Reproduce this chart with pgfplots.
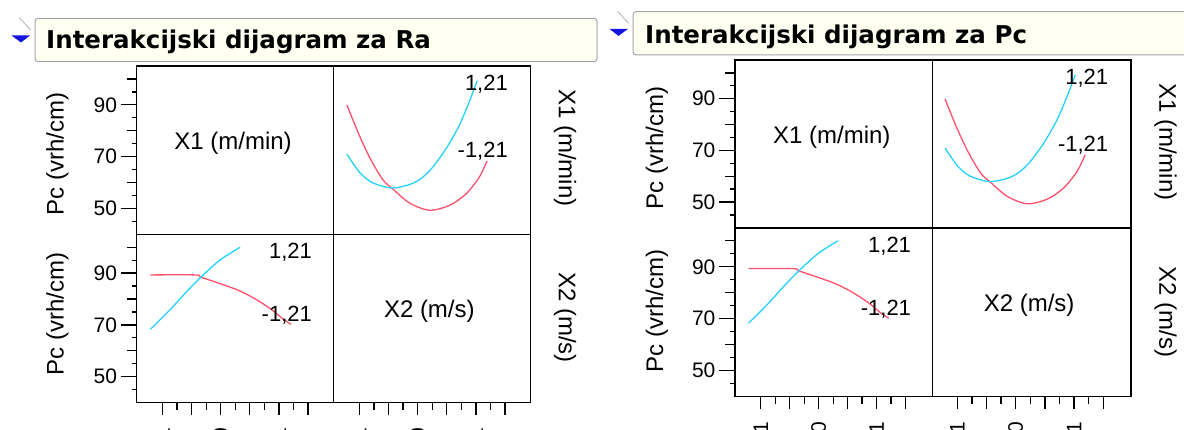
\documentclass[border=0pt]{standalone}
\usepackage{fontspec}
\setmainfont{Liberation Sans}
\newfontfamily\titlefont{DejaVu Sans}
\usepackage{pgfplots}
\pgfplotsset{compat=1.18}
\usepackage{pgfplotstable}
\definecolor{jred}{RGB}{255,80,110}
\definecolor{jcyan}{RGB}{35,210,250}
\definecolor{boxfill}{RGB}{255,255,242}
\definecolor{boxline}{RGB}{165,165,165}
\definecolor{tri}{RGB}{20,20,225}

% upper-right cell: x = X2, lines for X1 = -1.21 (red) and 1.21 (cyan)
\pgfplotstableread{
x y
-1.21 89.9
-1.02 79.3
-0.82 69.6
-0.60 61.2
-0.43 57.6
-0.14 52.1
0.20 49.3
0.54 51.1
0.82 55.4
1.05 61.8
1.19 68.3
}\urred
\pgfplotstableread{
x y
-1.21 70.9
-0.99 63.8
-0.77 59.9
-0.43 57.9
-0.06 59.9
0.20 64.4
0.48 72.8
0.71 81.9
0.88 90.9
1.02 99.3
}\urcyan
% lower-left cell: x = X1, lines for X2 = -1.21 (red) and 1.21 (cyan)
\pgfplotstableread{
x y
-1.21 89.3
-0.44 89.3
-0.354 88.5
-0.124 86.8
0.277 83.6
0.564 80.4
0.85 76.3
1.08 72.1
1.21 70.2
}\llred
\pgfplotstableread{
x y
-1.21 68.3
-0.87 75.9
-0.58 83.0
-0.33 88.7
-0.01 95.1
0.333 100.0
}\llcyan

\pgfplotsset{
  cell/.style={scale only axis, anchor=south west, ymin=40, ymax=105,
    axis line style={line width=1.4pt, black},
    xtick=\empty, ytick=\empty, clip=true,
    tick align=outside,
    every tick/.style={black, line width=1.3pt},
    tick label style={font=\fontsize{21}{21}\selectfont},
  },
  yax/.style={ytick={50,70,90}, yticklabels={50,70,90}, ytick pos=left,
    minor ytick={45,55,65,75,85,95},
    major tick length=16pt, minor tick length=5pt,
    extra y ticks={60,80,100}, extra y tick labels={},
    extra y tick style={ytick pos=left, major tick length=10pt},
    yticklabel style={anchor=east, inner sep=0pt},
    yticklabel shift=3.4pt},
  xax/.style={xtick={-1,-0.5,0,0.5,1,1.5}, xticklabels={-1,,0,,1,},
    minor xtick={-0.75,-0.25,0.25,0.75,1.25}, xtick pos=bottom,
    major tick length=12.7pt, minor tick length=7.3pt,
    xticklabel style={rotate=90, anchor=east, inner sep=0pt},
    xticklabel shift=12.5pt},
  overlay/.style={axis line style={draw=none}},
  jr/.style={color=jred, line width=1.3pt, smooth, no markers},
  jc/.style={color=jcyan, line width=1.3pt, smooth, no markers},
}
\newcommand{\lblfont}{\fontsize{24}{24}\selectfont}
\newcommand{\numfont}{\fontsize{22}{22}\selectfont}

\begin{document}
\begin{tikzpicture}
\path[use as bounding box] (0pt,0pt) rectangle (1184pt,429pt);

\begin{scope}[x=1pt,y=1pt]
% ================= LEFT PANEL decorations =================
\draw[boxline, fill=boxfill, rounded corners=3pt, line width=1pt] (35,410.7) rectangle (597,367.3);
\node[anchor=base west, inner sep=0pt, font=\titlefont\bfseries\fontsize{24.5}{28}\selectfont] at (46,380.7) {Interakcijski dijagram za Ra};
\draw[gray!60, line width=0.8pt] (19.3,411.3) -- (30.7,399);
\fill[tri] (11.5,393.5) -- (30,393.5) -- (21,386.5) -- cycle;
\node[rotate=90, font=\lblfont] at (57.4,275) {Pc (vrh/cm)};
\node[rotate=90, font=\lblfont] at (57.4,114.8) {Pc (vrh/cm)};
\node[rotate=-90, font=\lblfont] at (565,281) {X1 (m/min)};
\node[rotate=-90, font=\lblfont] at (565,111.5) {X2 (m/s)};
% ================= RIGHT PANEL decorations =================
\draw[boxline, fill=boxfill, rounded corners=3pt, line width=1pt] (633,417.3) rectangle (1200,374);
\node[anchor=base west, inner sep=0pt, font=\titlefont\bfseries\fontsize{24.5}{28}\selectfont] at (645,385.7) {Interakcijski dijagram za Pc};
\draw[gray!60, line width=0.8pt] (617.3,417.9) -- (628.7,405.6);
\fill[tri] (609.5,400.1) -- (628,400.1) -- (618.5,393.1) -- cycle;
\node[rotate=90, font=\lblfont] at (657,281) {Pc (vrh/cm)};
\node[rotate=90, font=\lblfont] at (657,118.2) {Pc (vrh/cm)};
\node[rotate=-90, font=\lblfont] at (1165.5,287.3) {X1 (m/min)};
\node[rotate=-90, font=\lblfont] at (1165.5,117.3) {X2 (m/s)};
\end{scope}

% ================= LEFT PANEL cells =================
\begin{axis}[cell, at={(136.7pt,194.7pt)}, width=196.6pt, height=168.3pt, xmin=-1.445, xmax=1.935, yax]
\node[font=\lblfont] at (axis description cs:0.49,0.54) {X1 (m/min)};
\end{axis}
\begin{axis}[cell, at={(333.3pt,194.7pt)}, width=197.2pt, height=168.3pt, xmin=-1.445, xmax=1.935]
\addplot[jr] table {\urred};
\addplot[jc] table {\urcyan};
\node[anchor=east, inner sep=0pt, font=\numfont] at (axis description cs:0.886,0.891) {1,21};
\node[anchor=east, inner sep=0pt, font=\numfont] at (axis description cs:0.886,0.495) {-1,21};
\end{axis}
\begin{axis}[cell, at={(136.7pt,26.5pt)}, width=196.6pt, height=168.2pt, xmin=-1.445, xmax=1.935, yax]
\addplot[jr] table {\llred};
\addplot[jc] table {\llcyan};
\node[anchor=east, inner sep=0pt, font=\numfont] at (axis description cs:0.892,0.893) {1,21};
\node[anchor=east, inner sep=0pt, font=\numfont] at (axis description cs:0.892,0.516) {-1,21};
\end{axis}
\begin{axis}[cell, overlay, at={(136.7pt,26.5pt)}, width=196.6pt, height=168.2pt, xmin=-1.445, xmax=1.935, xax]
\end{axis}
\begin{axis}[cell, at={(333.3pt,26.5pt)}, width=197.2pt, height=168.2pt, xmin=-1.445, xmax=1.935, xax]
\node[font=\lblfont] at (axis description cs:0.487,0.54) {X2 (m/s)};
\end{axis}

% ================= RIGHT PANEL cells =================
\begin{axis}[cell, at={(735pt,201.2pt)}, width=197.5pt, height=167.8pt, xmin=-1.445, xmax=1.965, yax]
\node[font=\lblfont] at (axis description cs:0.49,0.54) {X1 (m/min)};
\end{axis}
\begin{axis}[cell, at={(932.5pt,201.2pt)}, width=198.5pt, height=167.8pt, xmin=-1.425, xmax=1.975]
\addplot[jr] table {\urred};
\addplot[jc] table {\urcyan};
\node[anchor=east, inner sep=0pt, font=\numfont] at (axis description cs:0.886,0.891) {1,21};
\node[anchor=east, inner sep=0pt, font=\numfont] at (axis description cs:0.886,0.495) {-1,21};
\end{axis}
\begin{axis}[cell, at={(735pt,32.3pt)}, width=197.5pt, height=168.9pt, xmin=-1.445, xmax=1.965, yax]
\addplot[jr] table {\llred};
\addplot[jc] table {\llcyan};
\node[anchor=east, inner sep=0pt, font=\numfont] at (axis description cs:0.892,0.893) {1,21};
\node[anchor=east, inner sep=0pt, font=\numfont] at (axis description cs:0.892,0.516) {-1,21};
\end{axis}
\begin{axis}[cell, overlay, at={(735pt,32.3pt)}, width=197.5pt, height=168.9pt, xmin=-1.445, xmax=1.965, xax]
\end{axis}
\begin{axis}[cell, at={(932.5pt,32.3pt)}, width=198.5pt, height=168.9pt, xmin=-1.425, xmax=1.975, xax]
\node[font=\lblfont] at (axis description cs:0.487,0.54) {X2 (m/s)};
\end{axis}
\end{tikzpicture}
\end{document}
